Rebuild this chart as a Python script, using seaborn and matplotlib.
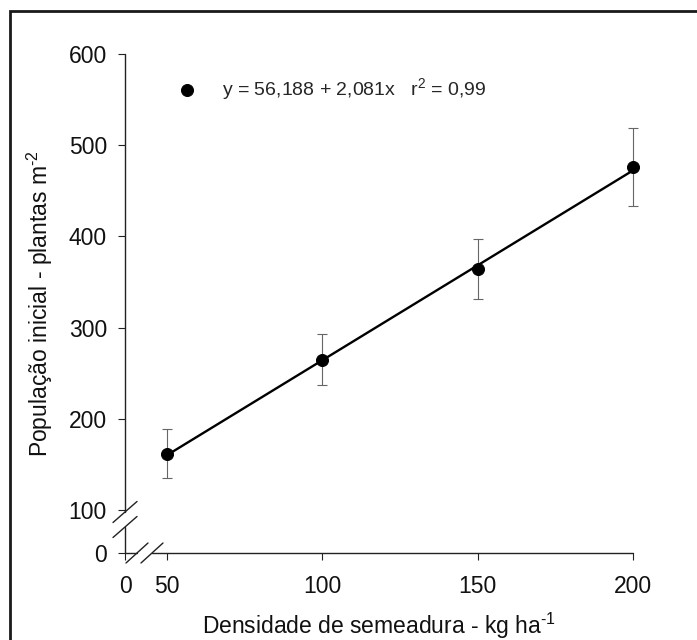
import numpy as np
import matplotlib
matplotlib.use("Agg")
import matplotlib.pyplot as plt
from matplotlib.patches import Rectangle
from matplotlib.lines import Line2D
import seaborn as sns

# Sowing density (kg/ha) and initial plant population (plants/m2) with error
densidade = [50, 100, 150, 200]
populacao = [162, 265, 364, 476]
erro = [27, 28, 33, 43]

# Fitted linear regression
intercepto = 56.188
inclinacao = 2.081
r2 = 0.99

x_ticks = [0, 50, 100, 150, 200]
y_ticks = [0, 100, 200, 300, 400, 500, 600]

sns.set_theme(style="white")
plt.rcParams["font.family"] = ["Liberation Sans", "DejaVu Sans"]
plt.rcParams["mathtext.fontset"] = "custom"
plt.rcParams["mathtext.rm"] = "Liberation Sans"
plt.rcParams["mathtext.default"] = "regular"


# Broken axes: the stretch below the first tick after zero is compressed
def make_break(start, factor):
    def fwd(v):
        v = np.asarray(v, dtype=float)
        return np.where(v >= start, v, start - (start - v) * factor)

    def inv(t):
        t = np.asarray(t, dtype=float)
        return np.where(t >= start, t, start - (start - t) / factor)

    return fwd, inv


fig = plt.figure(figsize=(6.97, 6.4), dpi=100)
W, H = 697.0, 640.0
ax_left, ax_right, ax_top, ax_bot = 125, 633, 54, 553
ax = fig.add_axes([ax_left / W, (H - ax_bot) / H,
                   (ax_right - ax_left) / W, (ax_bot - ax_top) / H])
ax.set_facecolor("white")
fig.patch.set_facecolor("white")

ax.set_xscale("function", functions=make_break(50, 0.27))
ax.set_yscale("function", functions=make_break(100, 0.47))
ax.set_xlim(0, 200)
ax.set_ylim(0, 600)

# Error bars
ax.errorbar(densidade, populacao, yerr=erro, fmt="none", ecolor="#666666",
            elinewidth=0.8, capsize=3.3, capthick=0.8, zorder=2, clip_on=False)

# Regression line over the sampled density range
x_fit = np.array([min(densidade), max(densidade)], dtype=float)
y_fit = intercepto + inclinacao * x_fit
sns.lineplot(x=x_fit, y=y_fit, color="black", linewidth=1.7, ax=ax,
             legend=False, zorder=3)

eq = (f"y = {intercepto:.3f} + {inclinacao:.3f}x   r$^{{2}}$ = {r2:.2f}"
      .replace(".", ","))
sns.scatterplot(x=densidade, y=populacao, color="black", edgecolor="black",
                s=75, ax=ax, zorder=4, clip_on=False, label=eq)

ax.legend(loc="center left", bbox_to_anchor=(0.103, 0.93),
          frameon=False, fontsize=14, handlelength=1.0,
          handletextpad=1.3, borderpad=0, borderaxespad=0)

# Axis lines with break marks
for s in ax.spines.values():
    s.set_visible(False)

ax.set_xticks(x_ticks)
ax.set_xticklabels([str(v) for v in x_ticks])
ax.set_yticks(y_ticks)
ax.set_yticklabels([str(v) for v in y_ticks])
ax.minorticks_off()
ax.tick_params(axis="both", which="major", direction="out", length=5,
               width=0.8, color="#222222", labelsize=16.5, labelcolor="#111111")
ax.tick_params(axis="y", pad=8, left=True)
ax.tick_params(axis="x", pad=11, bottom=True)

aw = ax_right - ax_left
ah = ax_bot - ax_top
lc = "#222222"
segs = [
    ([0, 0], [0, 26 / ah]),                 # lower y segment
    ([0, 0], [41 / ah, 1]),                 # upper y segment
    ([0, 12 / aw], [0, 0]),                 # left x segment
    ([27 / aw, 1], [0, 0]),                 # main x segment
]
for xs, ys in segs:
    ax.add_line(Line2D(xs, ys, transform=ax.transAxes, color=lc, lw=1.0,
                       clip_on=False))

# Break slashes on both axes
for cy in (41 / ah, 26 / ah):
    ax.add_line(Line2D([-12 / aw, 12 / aw], [cy - 10.5 / ah, cy + 10.5 / ah],
                       transform=ax.transAxes, color=lc, lw=1.0, clip_on=False))
for cx in (12 / aw, 27 / aw):
    ax.add_line(Line2D([cx - 11 / aw, cx + 11 / aw], [-10 / ah, 10 / ah],
                       transform=ax.transAxes, color=lc, lw=1.0, clip_on=False))

ax.set_xlabel("Densidade de semeadura - kg ha$^{\u20101}$", fontsize=16.5,
              color="#111111", labelpad=9)
ax.set_ylabel("População inicial - plantas m$^{\u20102}$", fontsize=16.5,
              color="#111111", labelpad=10)

# Outer frame around the figure
fig.add_artist(Rectangle((10 / W, -0.2), 1.2, 0.2 + (H - 11) / H,
                         transform=fig.transFigure, fill=False,
                         edgecolor="#1a1a1a", linewidth=2.0))

fig.savefig("out.png", dpi=100)
